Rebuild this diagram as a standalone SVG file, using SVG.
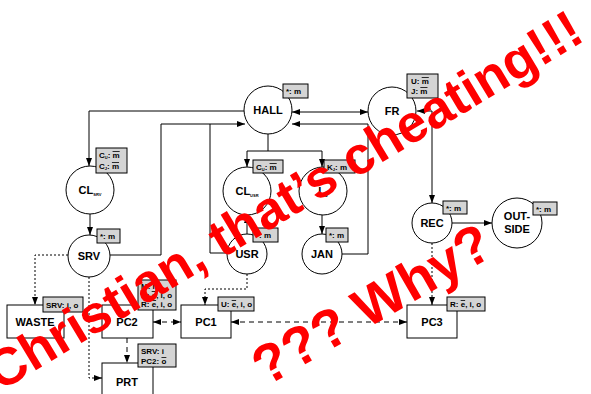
<svg xmlns="http://www.w3.org/2000/svg" width="591" height="394" viewBox="0 0 591 394">
<style>
.n{fill:#fff;stroke:#000;stroke-width:1}
.t{font-family:"Liberation Sans",Arial,sans-serif;font-weight:bold;font-size:11px;text-anchor:middle;fill:#000}
.tag{fill:#d4d4d4;stroke:#000;stroke-width:1}
.tt{font-family:"Liberation Sans",Arial,sans-serif;font-weight:bold;font-size:8px;fill:#000}
.ov{text-decoration:overline}
.c{fill:none;stroke:#000;stroke-width:1}
.dot{stroke-dasharray:2,2}
.dash{stroke-dasharray:5,4}
.wm{font-family:"Liberation Sans",Arial,sans-serif;font-weight:bold;fill:#ff0000}
</style>
<defs>
<marker id="a" viewBox="0 0 8 6" refX="8" refY="3" markerWidth="8" markerHeight="6" orient="auto-start-reverse" markerUnits="userSpaceOnUse">
<path d="M0,0 L8,3 L0,6 z" fill="#000"/>
</marker>
</defs>
<g id="connectors">
<path class="c" d="M244,111 H89 V166" marker-end="url(#a)"/>
<path class="c" d="M110,255 H161 V124 H245" marker-end="url(#a)"/>
<path class="c" d="M227,253 H210 V124"/>
<path class="c" d="M268,134 V151"/>
<path class="c" d="M247,151 H322"/>
<path class="c" d="M247,151 V167" marker-end="url(#a)"/>
<path class="c" d="M322,151 V167" marker-end="url(#a)"/>
<path class="c" d="M292,112 H368" marker-start="url(#a)" marker-end="url(#a)"/>
<path class="c" d="M417,111 H432 V203" marker-start="url(#a)" marker-end="url(#a)"/>
<path class="c" d="M342,254 H368 V124 H292" marker-end="url(#a)"/>
<path class="c" d="M90,214 V235" marker-end="url(#a)"/>
<path class="c" d="M247,234 V215" marker-end="url(#a)"/>
<path class="c" d="M322,215 V234" marker-end="url(#a)"/>
<path class="c" d="M452,223 H492" marker-end="url(#a)"/>
<path class="c dot" d="M68,255 H35 V305" marker-end="url(#a)"/>
<path class="c dot" d="M89,277 V378 H102" marker-end="url(#a)"/>
<path class="c dot" d="M247,274 V289 H205 V305" marker-end="url(#a)"/>
<path class="c dot" d="M432,243 V305" marker-end="url(#a)"/>
<path class="c dash" d="M153,322 H181" marker-start="url(#a)" marker-end="url(#a)"/>
<path class="c dash" d="M231,322 H407" marker-start="url(#a)" marker-end="url(#a)"/>
<path class="c dash" d="M127,338 V363" marker-end="url(#a)"/>
</g>
<g id="HALL"><circle class="n" cx="268" cy="110" r="24"/><text class="t" x="268" y="114">HALL</text>
<rect class="tag" x="283" y="84" width="25" height="14"/><text class="tt" x="286" y="94">*: m</text></g>
<g id="FR"><circle class="n" cx="392" cy="111" r="24"/><text class="t" x="392" y="115">FR</text>
<rect class="tag" x="407" y="74" width="31" height="24"/><text class="tt" x="411" y="84">U: <tspan class="ov">m</tspan></text><text class="tt" x="411" y="94">J: <tspan class="ov">m</tspan></text></g>
<g id="CL_SRV"><circle class="n" cx="90" cy="190" r="24"/><text class="t" x="90" y="194">CL<tspan font-size="4" dy="2">SRV</tspan></text>
<rect class="tag" x="96" y="148" width="31" height="25"/><text class="tt" x="99" y="158">C<tspan font-size="4" dy="1">U</tspan><tspan dy="-1">: </tspan><tspan class="ov">m</tspan></text><text class="tt" x="99" y="169">C<tspan font-size="4" dy="1">J</tspan><tspan dy="-1">: </tspan><tspan class="ov">m</tspan></text></g>
<g id="SRV"><circle class="n" cx="89" cy="256" r="21"/><text class="t" x="89" y="260">SRV</text>
<rect class="tag" x="97" y="229" width="23" height="14"/><text class="tt" x="100" y="239">*: m</text></g>
<g id="CL_USR"><circle class="n" cx="247" cy="191" r="24"/><text class="t" x="247" y="195">CL<tspan font-size="4" dy="2">USR</tspan></text>
<rect class="tag" x="253" y="160" width="30" height="13"/><text class="tt" x="256" y="170">C<tspan font-size="4" dy="1">U</tspan><tspan dy="-1">: </tspan><tspan class="ov">m</tspan></text></g>
<g id="L_J"><circle class="n" cx="323" cy="191" r="24"/><text class="t" x="323" y="195">L<tspan font-size="5" dy="2">J</tspan></text>
<rect class="tag" x="324" y="160" width="31" height="13"/><text class="tt" x="327" y="170">K<tspan font-size="4" dy="1">J</tspan><tspan dy="-1">: m</tspan></text></g>
<g id="USR"><circle class="n" cx="247" cy="254" r="20"/><text class="t" x="247" y="258">USR</text>
<rect class="tag" x="253" y="228" width="25" height="14"/><text class="tt" x="256" y="238">*: m</text></g>
<g id="JAN"><circle class="n" cx="322" cy="254" r="20"/><text class="t" x="322" y="258">JAN</text>
<rect class="tag" x="326" y="228" width="22" height="14"/><text class="tt" x="329" y="238">*: m</text></g>
<g id="REC"><circle class="n" cx="432" cy="223" r="20"/><text class="t" x="432" y="227">REC</text>
<rect class="tag" x="443" y="201" width="24" height="13"/><text class="tt" x="446" y="211">*: m</text></g>
<g id="OUTSIDE"><circle class="n" cx="517" cy="223" r="25"/><text class="t" x="517" y="220">OUT-</text><text class="t" x="517" y="233">SIDE</text>
<rect class="tag" x="533" y="202" width="24" height="13"/><text class="tt" x="536" y="212">*: m</text></g>
<g id="WASTE"><rect class="n" x="7" y="305" width="57" height="33"/><text class="t" x="35" y="326">WASTE</text>
<rect class="tag" x="43" y="297" width="40" height="15"/><text class="tt" x="46" y="308">SRV: i, o</text></g>
<g id="PC2"><rect class="n" x="102" y="305" width="51" height="33"/><text class="t" x="127" y="326">PC2</text>
<rect class="tag" x="138" y="280" width="38" height="30"/><text class="tt" x="141" y="289">M: i</text><text class="tt" x="141" y="298">U: <tspan class="ov">e</tspan>, i, o</text><text class="tt" x="141" y="307">R: <tspan class="ov">e</tspan>, i, o</text></g>
<g id="PC1"><rect class="n" x="181" y="305" width="50" height="33"/><text class="t" x="206" y="326">PC1</text>
<rect class="tag" x="218" y="297" width="36" height="14"/><text class="tt" x="221" y="307">U: <tspan class="ov">e</tspan>, i, o</text></g>
<g id="PC3"><rect class="n" x="407" y="305" width="50" height="33"/><text class="t" x="432" y="326">PC3</text>
<rect class="tag" x="447" y="297" width="38" height="14"/><text class="tt" x="450" y="307">R: <tspan class="ov">e</tspan>, i, o</text></g>
<g id="PRT"><rect class="n" x="102" y="363" width="51" height="40"/><text class="t" x="127" y="386">PRT</text>
<rect class="tag" x="138" y="344" width="38" height="23"/><text class="tt" x="141" y="354">SRV: i</text><text class="tt" x="141" y="364">PC2: <tspan class="ov">o</tspan></text></g>
<g id="watermark">
<text class="wm" font-size="53" transform="translate(0,392) rotate(-31)">Christian, that’s cheating!!!</text>
<text class="wm" font-size="55" transform="translate(266,387) rotate(-30)">??? Why?</text>
</g>
</svg>
